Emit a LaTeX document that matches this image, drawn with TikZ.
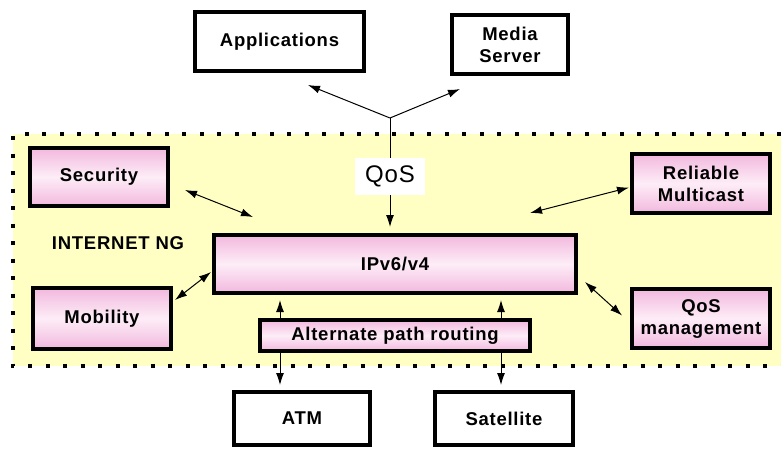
\documentclass[tikz,border=0pt]{standalone}
\usepackage{fontspec}
\setmainfont{Liberation Sans}
\newfontfamily\labelfont[LetterSpace=4]{Liberation Sans}
\usetikzlibrary{arrows.meta, calc}
\definecolor{ng-yellow}{HTML}{FFFFC4}
\definecolor{ng-pink}{HTML}{F2B8DE}
\definecolor{ng-light}{HTML}{FDEDF7}

\begin{document}
\begin{tikzpicture}[x=1pt, y=-1pt,
    box/.style={draw, line width=4pt, fill=white, align=center, inner sep=0pt,
        font=\labelfont\bfseries\fontsize{18.5}{22}\selectfont},
    pinkbox/.style={box, top color=ng-pink, bottom color=ng-pink, middle color=ng-light},
    qoslabel/.style={fill=white, inner sep=0pt, minimum width=70pt, minimum height=37pt,
        font=\labelfont\fontsize{24}{26}\selectfont},
    dots/.style={line width=4pt, dash pattern=on 4pt off 13.5pt},
    arrow/.style={-{Latex[length=12pt,width=8pt]}, line width=1pt},
    dblarrow/.style={{Latex[length=12pt,width=8pt]}-{Latex[length=12pt,width=8pt]}, line width=1pt}
]
    \useasboundingbox (0,0) rectangle (781,448);

    % internet NG area
    \fill[ng-yellow] (13,134) rectangle (781,366);
    \draw[dots] (781,134) -- (13,134) -- (13,366) -- (781,366);
    \node (inetng) [font=\labelfont\bfseries\fontsize{18.5}{22}\selectfont] at (118,243) {INTERNET NG};

    \node (apps) [box, minimum width=169pt, minimum height=59pt] at (279.5,41.5) {Applications};
    \node (media) [box, minimum width=116pt, minimum height=59pt] at (510,44.5) {Media\\Server};
    \node (security) [pinkbox, minimum width=138pt, minimum height=58pt] at (99,177) {Security};
    \node (multicast) [pinkbox, minimum width=138pt, minimum height=59pt] at (701,183.5) {Reliable\\Multicast};
    \node (ipv6) [pinkbox, minimum width=362pt, minimum height=58pt] at (395,264) {IPv6/v4};
    \node (mobility) [pinkbox, minimum width=138pt, minimum height=61pt] at (102,318.5) {Mobility};
    \node (qosmgmt) [pinkbox, minimum width=138pt, minimum height=59pt] at (701,318.5) {QoS\\management};
    \node (alt) [pinkbox, minimum width=270pt, minimum height=31pt] at (395,335.5) {Alternate path routing};
    \node (atm) [box, minimum width=136pt, minimum height=53pt] at (302,418.5) {ATM};
    \node (sat) [box, minimum width=138pt, minimum height=53pt] at (504,418.5) {Satellite};

    \coordinate (junction) at (390,118);
    \coordinate (appsend) at (308,85);
    \coordinate (mediaend) at (460,89);

    \draw [arrow] (junction) -- (appsend);
    \draw [arrow] (junction) -- (mediaend);
    \draw [arrow] (junction) -- node[pos=0.54] (qos) [qoslabel] {QoS} ($(junction |- ipv6.north)+(0,-6)$);

    \draw [dblarrow] ($(security.east)+(15,13)$) -- ($(ipv6.north west)+(41,-16)$);
    \draw [dblarrow] ($(mobility.north east)+(2,14)$) -- ($(ipv6.west)+(-1,8)$);
    \draw [dblarrow] ($(ipv6.north east)+(-48,-20)$) -- ($(multicast.west)+(-1,4)$);
    \draw [dblarrow] ($(ipv6.east)+(7,18)$) -- ($(qosmgmt.west)+(-8,-3)$);

    \draw [arrow] ($(alt.north west)+(22,0)$) -- ($(ipv6.south west)+(68,5)$);
    \draw [arrow] ($(alt.north west)+(243,0)$) -- ($(ipv6.south west)+(289,5)$);
    \draw [arrow] ($(alt.south west)+(22,0)$) -- ($(atm.north west)+(48,-5)$);
    \draw [arrow] ($(alt.south west)+(243,0)$) -- ($(sat.north west)+(68,-5)$);
\end{tikzpicture}
\end{document}
